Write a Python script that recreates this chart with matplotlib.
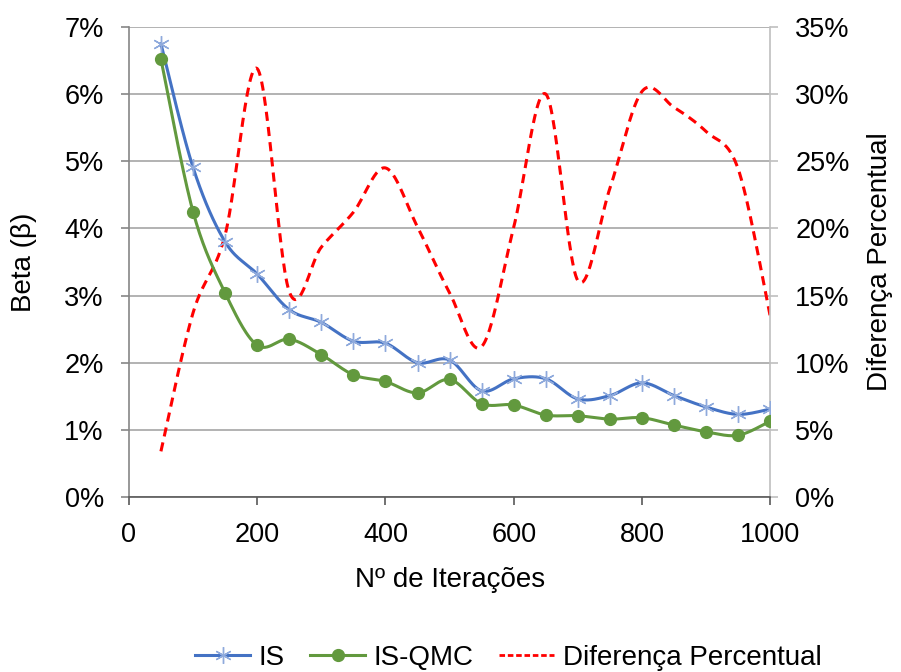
import numpy as np
import matplotlib
matplotlib.use("Agg")
import matplotlib.pyplot as plt
from matplotlib.ticker import FuncFormatter

plt.rcParams['font.family'] = ['Liberation Sans', 'DejaVu Sans']

iteracoes = [50, 100, 150, 200, 250, 300, 350, 400, 450, 500,
             550, 600, 650, 700, 750, 800, 850, 900, 950, 1000]
beta_is = [6.75, 4.91, 3.80, 3.32, 2.79, 2.60, 2.32, 2.29, 2.00, 2.04,
           1.58, 1.76, 1.76, 1.46, 1.51, 1.70, 1.51, 1.34, 1.23, 1.31]
beta_qmc = [6.52, 4.25, 3.04, 2.26, 2.35, 2.12, 1.82, 1.72, 1.55, 1.75,
            1.39, 1.37, 1.22, 1.21, 1.16, 1.18, 1.07, 0.97, 0.92, 1.13]
diferenca = [3.4, 13.7, 19.5, 31.9, 15.3, 18.6, 21.2, 24.5, 20.1, 15.2,
             11.2, 20.1, 30.0, 16.1, 23.0, 30.2, 29.0, 27.2, 24.4, 13.4]


def smooth(x, y, n=30):
    # Catmull-Rom style curve, roughly what Excel does for "smoothed line"
    x = np.asarray(x, float)
    y = np.asarray(y, float)
    px = np.concatenate([[x[0]], x, [x[-1]]])
    py = np.concatenate([[y[0]], y, [y[-1]]])
    xs, ys = [], []
    t = np.linspace(0, 1, n)
    for i in range(1, len(px) - 2):
        p0x, p1x, p2x, p3x = px[i - 1], px[i], px[i + 1], px[i + 2]
        p0y, p1y, p2y, p3y = py[i - 1], py[i], py[i + 1], py[i + 2]
        c1x = p1x + (p2x - p0x) / 6
        c1y = p1y + (p2y - p0y) / 6
        c2x = p2x - (p3x - p1x) / 6
        c2y = p2y - (p3y - p1y) / 6
        bx = (1 - t) ** 3 * p1x + 3 * (1 - t) ** 2 * t * c1x + 3 * (1 - t) * t ** 2 * c2x + t ** 3 * p2x
        by = (1 - t) ** 3 * p1y + 3 * (1 - t) ** 2 * t * c1y + 3 * (1 - t) * t ** 2 * c2y + t ** 3 * p2y
        xs.extend(bx)
        ys.extend(by)
    return np.array(xs), np.array(ys)


fig = plt.figure(figsize=(9.01, 6.72), dpi=100)
ax = fig.add_axes([0.143, 0.2604, 0.712, 0.6996])
ax2 = ax.twinx()

blue = '#4472C4'
green = '#62993E'
gridc = '#A6A6A6'
axc = '#868686'
fs_tick = 19.5
fs_lab = 20

ax.set_zorder(ax2.get_zorder() + 1)
ax.patch.set_visible(False)

sx, sy = smooth(iteracoes, beta_is)
ax.plot(sx, sy, color=blue, lw=2.2, zorder=3)
ax.plot(iteracoes, beta_is, ls='none', marker=(6, 2, 0), ms=12, mew=1.0,
        color='#8FAADC', zorder=4)
sx, sy = smooth(iteracoes, beta_qmc)
ax.plot(sx, sy, color=green, lw=2.2, zorder=3)
ax.plot(iteracoes, beta_qmc, ls='none', marker='o', ms=8.5, color=green, zorder=4)

sx, sy = smooth(iteracoes, diferenca)
ax2.plot(sx, sy, color='#FF0000', lw=2.2, ls=(0, (3, 2)), zorder=2)

ax.set_xlim(0, 1000)
ax.set_ylim(0, 7)
ax2.set_ylim(0, 35)
ax.set_xticks(np.arange(0, 1001, 200))
ax.set_yticks(np.arange(0, 7.1, 1))
ax2.set_yticks(np.arange(0, 36, 5))
pct = FuncFormatter(lambda v, p: f'{v:.0f}%')
ax.yaxis.set_major_formatter(pct)
ax2.yaxis.set_major_formatter(pct)

ax2.grid(axis='y', color=gridc, lw=1.2)
ax2.set_axisbelow(True)

for a in (ax, ax2):
    a.spines['top'].set_visible(False)
    for s in ('left', 'right', 'bottom'):
        a.spines[s].set_color(axc)
        a.spines[s].set_linewidth(1.2)
    a.tick_params(labelsize=fs_tick, colors='black', length=6, width=1.2)
    a.tick_params(axis='both', color=axc)
ax.spines['right'].set_visible(False)
ax.spines['bottom'].set_color('#595959')
ax2.spines['right'].set_color('#BFBFBF')
ax2.spines['left'].set_visible(False)
ax2.spines['bottom'].set_visible(False)
ax2.tick_params(axis='y', color='#BFBFBF', pad=12)
ax.tick_params(axis='y', pad=12)
ax.tick_params(axis='x', pad=12, color='#595959')

ax.set_xlabel('Nº de Iterações', fontsize=fs_lab, labelpad=14)
ax.set_ylabel('Beta (β)', fontsize=fs_lab, labelpad=20)
ax2.set_ylabel('Diferença Percentual', fontsize=fs_lab, labelpad=12)

handles = [
    plt.Line2D([], [], color=blue, lw=2.2, marker=(6, 2, 0), ms=12, mec='#8FAADC'),
    plt.Line2D([], [], color=green, lw=2.2, marker='o', ms=8.5),
    plt.Line2D([], [], color='#FF0000', lw=2.0, ls=(0, (2, 1))),
]
fig.legend(handles, ['IS', 'IS-QMC', 'Diferença Percentual'], loc='lower center',
           bbox_to_anchor=(0.564, -0.036), ncol=3, frameon=False, fontsize=fs_lab,
           handlelength=2.0, columnspacing=0.9, handletextpad=0.3)

fig.savefig('out.png', dpi=100)
